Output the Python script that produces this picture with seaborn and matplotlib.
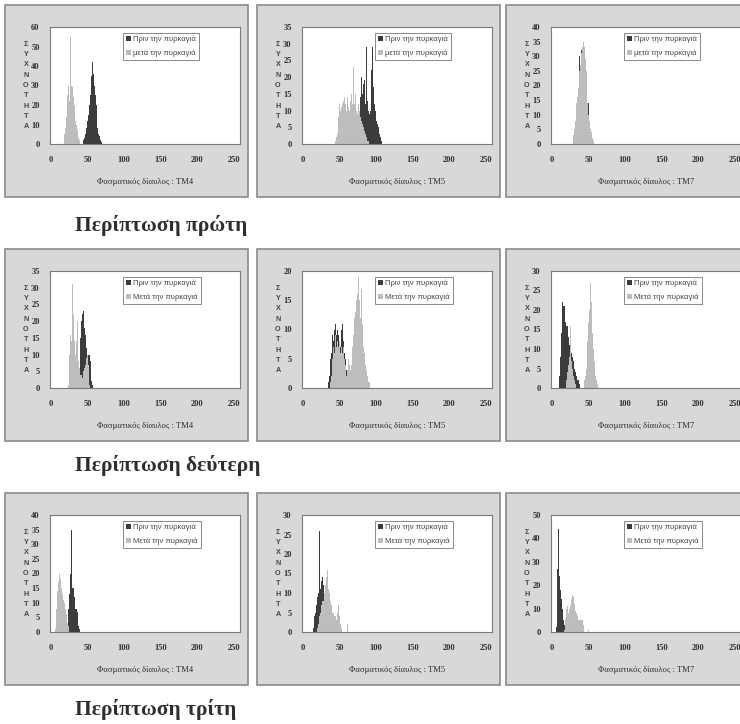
import numpy as np
import pandas as pd
import matplotlib
matplotlib.use("Agg")
import matplotlib.pyplot as plt
from matplotlib.patches import Rectangle
from matplotlib.ticker import MultipleLocator
import seaborn as sns

# ---------------------------------------------------------------- data
BANDS = ["TM4", "TM5", "TM7"]
CASE_TITLES = ["Περίπτωση πρώτη", "Περίπτωση δεύτερη", "Περίπτωση τρίτη"]
LABEL_BEFORE = "Πριν την πυρκαγιά"
LABEL_AFTER = ["μετά την πυρκαγιά", "Μετά την πυρκαγιά", "Μετά την πυρκαγιά"]
X_LABEL = "Φασματικός δίαυλος : "
Y_LABEL = "ΣΥΧΝΟΤΗΤΑ"
X_TICKS = [0, 50, 100, 150, 200, 250]

# y-axis maximum and major step, per case (row) and band (column)
Y_MAX = [[60, 35, 40], [35, 20, 30], [40, 30, 50]]
Y_STEP = [[10, 5, 5], [5, 5, 5], [5, 5, 10]]

# histograms: first DN value, then one count per consecutive DN value
# case 1
c1_tm4_before_start = 44
c1_tm4_before = [1, 2, 3, 5, 6, 8, 12, 15, 16, 20, 25, 28, 35, 42, 36, 35,
                 30, 25, 20, 14, 8, 5, 4, 3, 2, 1, 1]
c1_tm4_after_start = 18
c1_tm4_after = [2, 5, 8, 14, 20, 25, 30, 28, 22, 55, 30, 26, 29, 24, 20, 16,
                12, 10, 7, 5, 3, 2, 1]
c1_tm5_before_start = 76
c1_tm5_before = [2, 5, 10, 14, 20, 15, 12, 18, 19, 15, 12, 29, 13, 11, 10, 9,
                 10, 12, 22, 29, 17, 16, 12, 10, 8, 7, 6, 5, 4, 3, 2, 1, 1]
c1_tm5_after_start = 44
c1_tm5_after = [1, 1, 2, 3, 5, 8, 12, 10, 13, 11, 12, 9, 13, 14, 12, 13, 10,
                14, 11, 12, 10, 13, 15, 30, 12, 23, 14, 12, 15, 10, 11, 9, 12,
                10, 12, 8, 7, 6, 6, 5, 4, 3, 3, 2, 1, 1, 1]
c1_tm7_before_start = 34
c1_tm7_before = [2, 6, 10, 15, 30, 20, 22, 32, 25, 28, 25, 22, 18, 17, 20, 12,
                 14, 6, 3, 1]
c1_tm7_after_start = 29
c1_tm7_after = [1, 3, 5, 8, 11, 14, 16, 19, 22, 25, 27, 29, 31, 33, 35, 36,
                33, 29, 25, 18, 14, 10, 8, 6, 5, 4, 3, 2, 1]
# case 2
c2_tm4_before_start = 37
c2_tm4_before = [1, 3, 6, 10, 15, 20, 22, 26, 23, 18, 16, 14, 12, 8, 10, 10,
                 10, 8, 5, 2, 1]
c2_tm4_after_start = 24
c2_tm4_after = [1, 4, 10, 16, 14, 25, 31, 22, 14, 12, 10, 14, 20, 12, 8, 6,
                5, 4, 4, 3, 4, 5, 6, 7, 8, 9, 10, 7, 3, 1]
c2_tm5_before_start = 35
c2_tm5_before = [1, 2, 3, 5, 6, 7, 9, 8, 10, 12, 11, 9, 10, 8, 9, 8, 7, 9, 10,
                 11, 9, 8, 6, 5, 4, 3, 2, 3, 2, 1]
c2_tm5_after_start = 38
c2_tm5_after = [1, 2, 3, 5, 7, 6, 8, 9, 7, 8, 9, 7, 8, 6, 8, 7, 6, 9, 7, 5,
                4, 3, 2, 3, 5, 7, 4, 3, 4, 5, 7, 9, 10, 12, 13, 15, 14, 16, 19,
                15, 13, 12, 17, 11, 9, 7, 6, 5, 4, 3, 2, 2, 1, 1]
c2_tm7_before_start = 10
c2_tm7_before = [1, 3, 8, 14, 20, 22, 21, 21, 19, 17, 16, 16, 15, 13, 11, 10,
                 10, 9, 8, 10, 7, 5, 4, 4, 3, 2, 2, 1, 1]
c2_tm7_after_start = 20
c2_tm7_after = [2, 4, 5, 6, 8, 9, 16, 7, 5, 4, 3, 2, 1, 0, 0, 0, 0, 0, 0, 0,
                0, 0, 0, 0, 1, 2, 3, 5, 8, 12, 17, 20, 23, 27, 22, 17, 14, 10,
                7, 5, 3, 2, 1]
# case 3
c3_tm4_before_start = 22
c3_tm4_before = [1, 3, 8, 13, 13, 20, 35, 22, 15, 15, 12, 10, 8, 8, 7, 5, 2,
                 1, 1]
c3_tm4_after_start = 6
c3_tm4_after = [1, 3, 8, 14, 12, 17, 20, 18, 16, 15, 13, 11, 10, 10, 8, 6, 4,
                3, 2, 1]
c3_tm5_before_start = 15
c3_tm5_before = [1, 4, 5, 7, 7, 9, 10, 12, 26, 11, 12, 13, 14, 12, 10, 6, 3, 1]
c3_tm5_after_start = 20
c3_tm5_after = [1, 2, 3, 4, 5, 6, 7, 8, 8, 9, 10, 12, 14, 13, 16, 11, 10, 9,
                8, 7, 6, 5, 5, 4, 5, 4, 3, 5, 6, 7, 4, 2, 2, 1, 0, 0, 0, 0, 0,
                0, 0, 2]
c3_tm7_before_start = 6
c3_tm7_before = [2, 9, 27, 44, 26, 24, 18, 14, 10, 10, 5, 3, 1]
c3_tm7_after_start = 17
c3_tm7_after = [1, 3, 6, 10, 11, 9, 8, 10, 12, 11, 14, 16, 21, 15, 12, 9, 9, 8,
                7, 5, 4, 5, 5, 4, 5, 5, 3, 1, 0, 0, 0, 0, 0, 1]

HISTS = [
    [(c1_tm4_before_start, c1_tm4_before, c1_tm4_after_start, c1_tm4_after),
     (c1_tm5_before_start, c1_tm5_before, c1_tm5_after_start, c1_tm5_after),
     (c1_tm7_before_start, c1_tm7_before, c1_tm7_after_start, c1_tm7_after)],
    [(c2_tm4_before_start, c2_tm4_before, c2_tm4_after_start, c2_tm4_after),
     (c2_tm5_before_start, c2_tm5_before, c2_tm5_after_start, c2_tm5_after),
     (c2_tm7_before_start, c2_tm7_before, c2_tm7_after_start, c2_tm7_after)],
    [(c3_tm4_before_start, c3_tm4_before, c3_tm4_after_start, c3_tm4_after),
     (c3_tm5_before_start, c3_tm5_before, c3_tm5_after_start, c3_tm5_after),
     (c3_tm7_before_start, c3_tm7_before, c3_tm7_after_start, c3_tm7_after)],
]

# ---------------------------------------------------------------- style
DARK = "#3c3c3c"
LIGHT = "#bdbdbd"
PANEL_FILL = "#d8d8d8"
PANEL_EDGE = "#8a8a8a"
TEXT = "#2e2e2e"

sns.set_style("white")
plt.rcParams["font.family"] = ["Liberation Serif", "DejaVu Serif"]

W, H = 740, 724
fig = plt.figure(figsize=(W / 100, H / 100), dpi=100)
fig.patch.set_facecolor("white")

PANEL_X = [5, 257, 506]
PANEL_Y = [5, 249, 493]
PANEL_W, PANEL_H = 243, 192
AX_DX, AX_DY, AX_W, AX_H = 45, 22, 190, 117
CAPTION_Y = [226, 466, 710]


def fx(x):
    return x / W


def fy(y):
    return 1 - y / H


def frame(start, counts):
    return pd.DataFrame({"dn": np.arange(start, start + len(counts)),
                         "count": counts})


for r in range(3):
    for c in range(3):
        x0, y0 = PANEL_X[c], PANEL_Y[r]
        fig.add_artist(Rectangle((fx(x0), fy(y0 + PANEL_H)), PANEL_W / W,
                                 PANEL_H / H, transform=fig.transFigure,
                                 facecolor=PANEL_FILL, edgecolor=PANEL_EDGE,
                                 linewidth=1.2, zorder=0))
        ax = fig.add_axes([fx(x0 + AX_DX), fy(y0 + AX_DY + AX_H),
                           AX_W / W, AX_H / H])
        ax.set_facecolor("white")

        bs, bc, as_, ac = HISTS[r][c]
        sns.histplot(data=frame(bs, bc), x="dn", weights="count",
                     discrete=True, color=DARK, alpha=1, linewidth=0,
                     edgecolor="none", ax=ax, label=LABEL_BEFORE)
        sns.histplot(data=frame(as_, ac), x="dn", weights="count",
                     discrete=True, color=LIGHT, alpha=1, linewidth=0,
                     edgecolor="none", ax=ax, label=LABEL_AFTER[r])

        ax.set_xlim(-1, 258)
        ax.set_ylim(0, Y_MAX[r][c])
        ax.set_xticks(X_TICKS)
        ax.xaxis.set_minor_locator(MultipleLocator(10))
        ax.yaxis.set_major_locator(MultipleLocator(Y_STEP[r][c]))
        ax.yaxis.set_minor_locator(MultipleLocator(Y_STEP[r][c] / 5))
        ax.tick_params(which="both", direction="inout", color="#555555",
                       width=0.6)
        ax.tick_params(which="major", length=3)
        ax.tick_params(which="minor", length=2)
        ax.tick_params(axis="x", which="major", pad=7)
        ax.tick_params(axis="y", which="major", pad=6)
        for lab in ax.get_xticklabels() + ax.get_yticklabels():
            lab.set_fontsize(6)
            lab.set_fontweight("bold")
            lab.set_color(TEXT)
        for sp in ax.spines.values():
            sp.set_color("#7a7a7a")
            sp.set_linewidth(0.8)
            sp.set_visible(True)

        ax.set_xlabel(X_LABEL + BANDS[c], fontsize=6.2, color=TEXT,
                      labelpad=10)
        ax.set_ylabel("")
        ax.text(-24 / AX_W, 0.5, "\n".join(Y_LABEL), transform=ax.transAxes,
                ha="center", va="center", fontsize=5.2, fontweight="bold",
                color="#444444", linespacing=1.65,
                family=["Liberation Sans", "DejaVu Sans"])

        leg = ax.legend(loc="upper left", bbox_to_anchor=(0.385, 0.95),
                        frameon=True, fancybox=False,
                        handlelength=0.7, handleheight=0.7, handletextpad=0.3,
                        borderpad=0.35, labelspacing=0.9, borderaxespad=0,
                        prop={"family": ["Liberation Sans", "DejaVu Sans"],
                              "size": 5.5})
        leg.get_frame().set_edgecolor("#555555")
        leg.get_frame().set_linewidth(0.6)
        for t in leg.get_texts():
            t.set_color("#444444")

for r in range(3):
    fig.text(fx(75), fy(CAPTION_Y[r]), CASE_TITLES[r], ha="left",
             va="center", fontsize=15.5, fontweight="bold", color=TEXT)

fig.savefig("out.png", dpi=100)
